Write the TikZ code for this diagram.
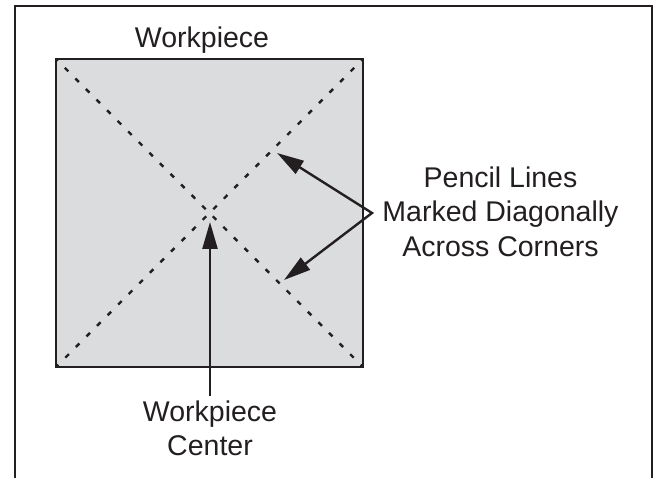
\documentclass[tikz,border=0pt]{standalone}
\usepackage{fontspec}
\setmainfont{Liberation Sans}
\usetikzlibrary{arrows.meta}
\definecolor{ink}{RGB}{35,31,32}
\definecolor{plate}{RGB}{219,220,222}
\begin{document}
\begin{tikzpicture}[x=1pt,y=-1pt,
  lbl/.style={font=\fontsize{28.5}{34}\selectfont, text=ink, inner sep=0pt, align=center},
  pointer/.style={draw=ink, line width=2.4pt, miter limit=20},
  pencil/.style={draw=ink, line width=2.4pt, dash pattern=on 5pt off 9.97pt, dash phase=2.5pt}]
\tikzset{head/.tip={Triangle[length=27pt,width=15pt]}}
\useasboundingbox (0,0) rectangle (658,478);
\draw[ink, line width=2.5pt] (15,490) -- (15,6) -- (652,6) -- (652,490);
\node[draw=ink, fill=plate, line width=2.8pt, minimum width=307pt, minimum height=308pt,
      inner sep=0pt, outer sep=0pt] (wp) at (209.5,213) {};
\draw[pencil] (wp.north west) -- (wp.south east);
\draw[pencil] (wp.north east) -- (wp.south west);
\node[lbl, anchor=base] (title) at (202,48) {Workpiece};
\node[lbl, anchor=base] (pencilnote) at (500.5,256) {Pencil Lines\\Marked Diagonally\\Across Corners};
\node[lbl, anchor=base] (centernote) at (210,455) {Workpiece\\Center};
\coordinate (fork) at (372,213);
\coordinate (tipA) at (277,153);
\coordinate (tipB) at (284,280);
\coordinate (tipC) at (210,222);
\coordinate (tail) at (210,396);
\draw[pointer, head-head] (tipA) -- (fork) -- (tipB);
\draw[pointer, -head] (tail) -- (tipC);
\end{tikzpicture}
\end{document}
